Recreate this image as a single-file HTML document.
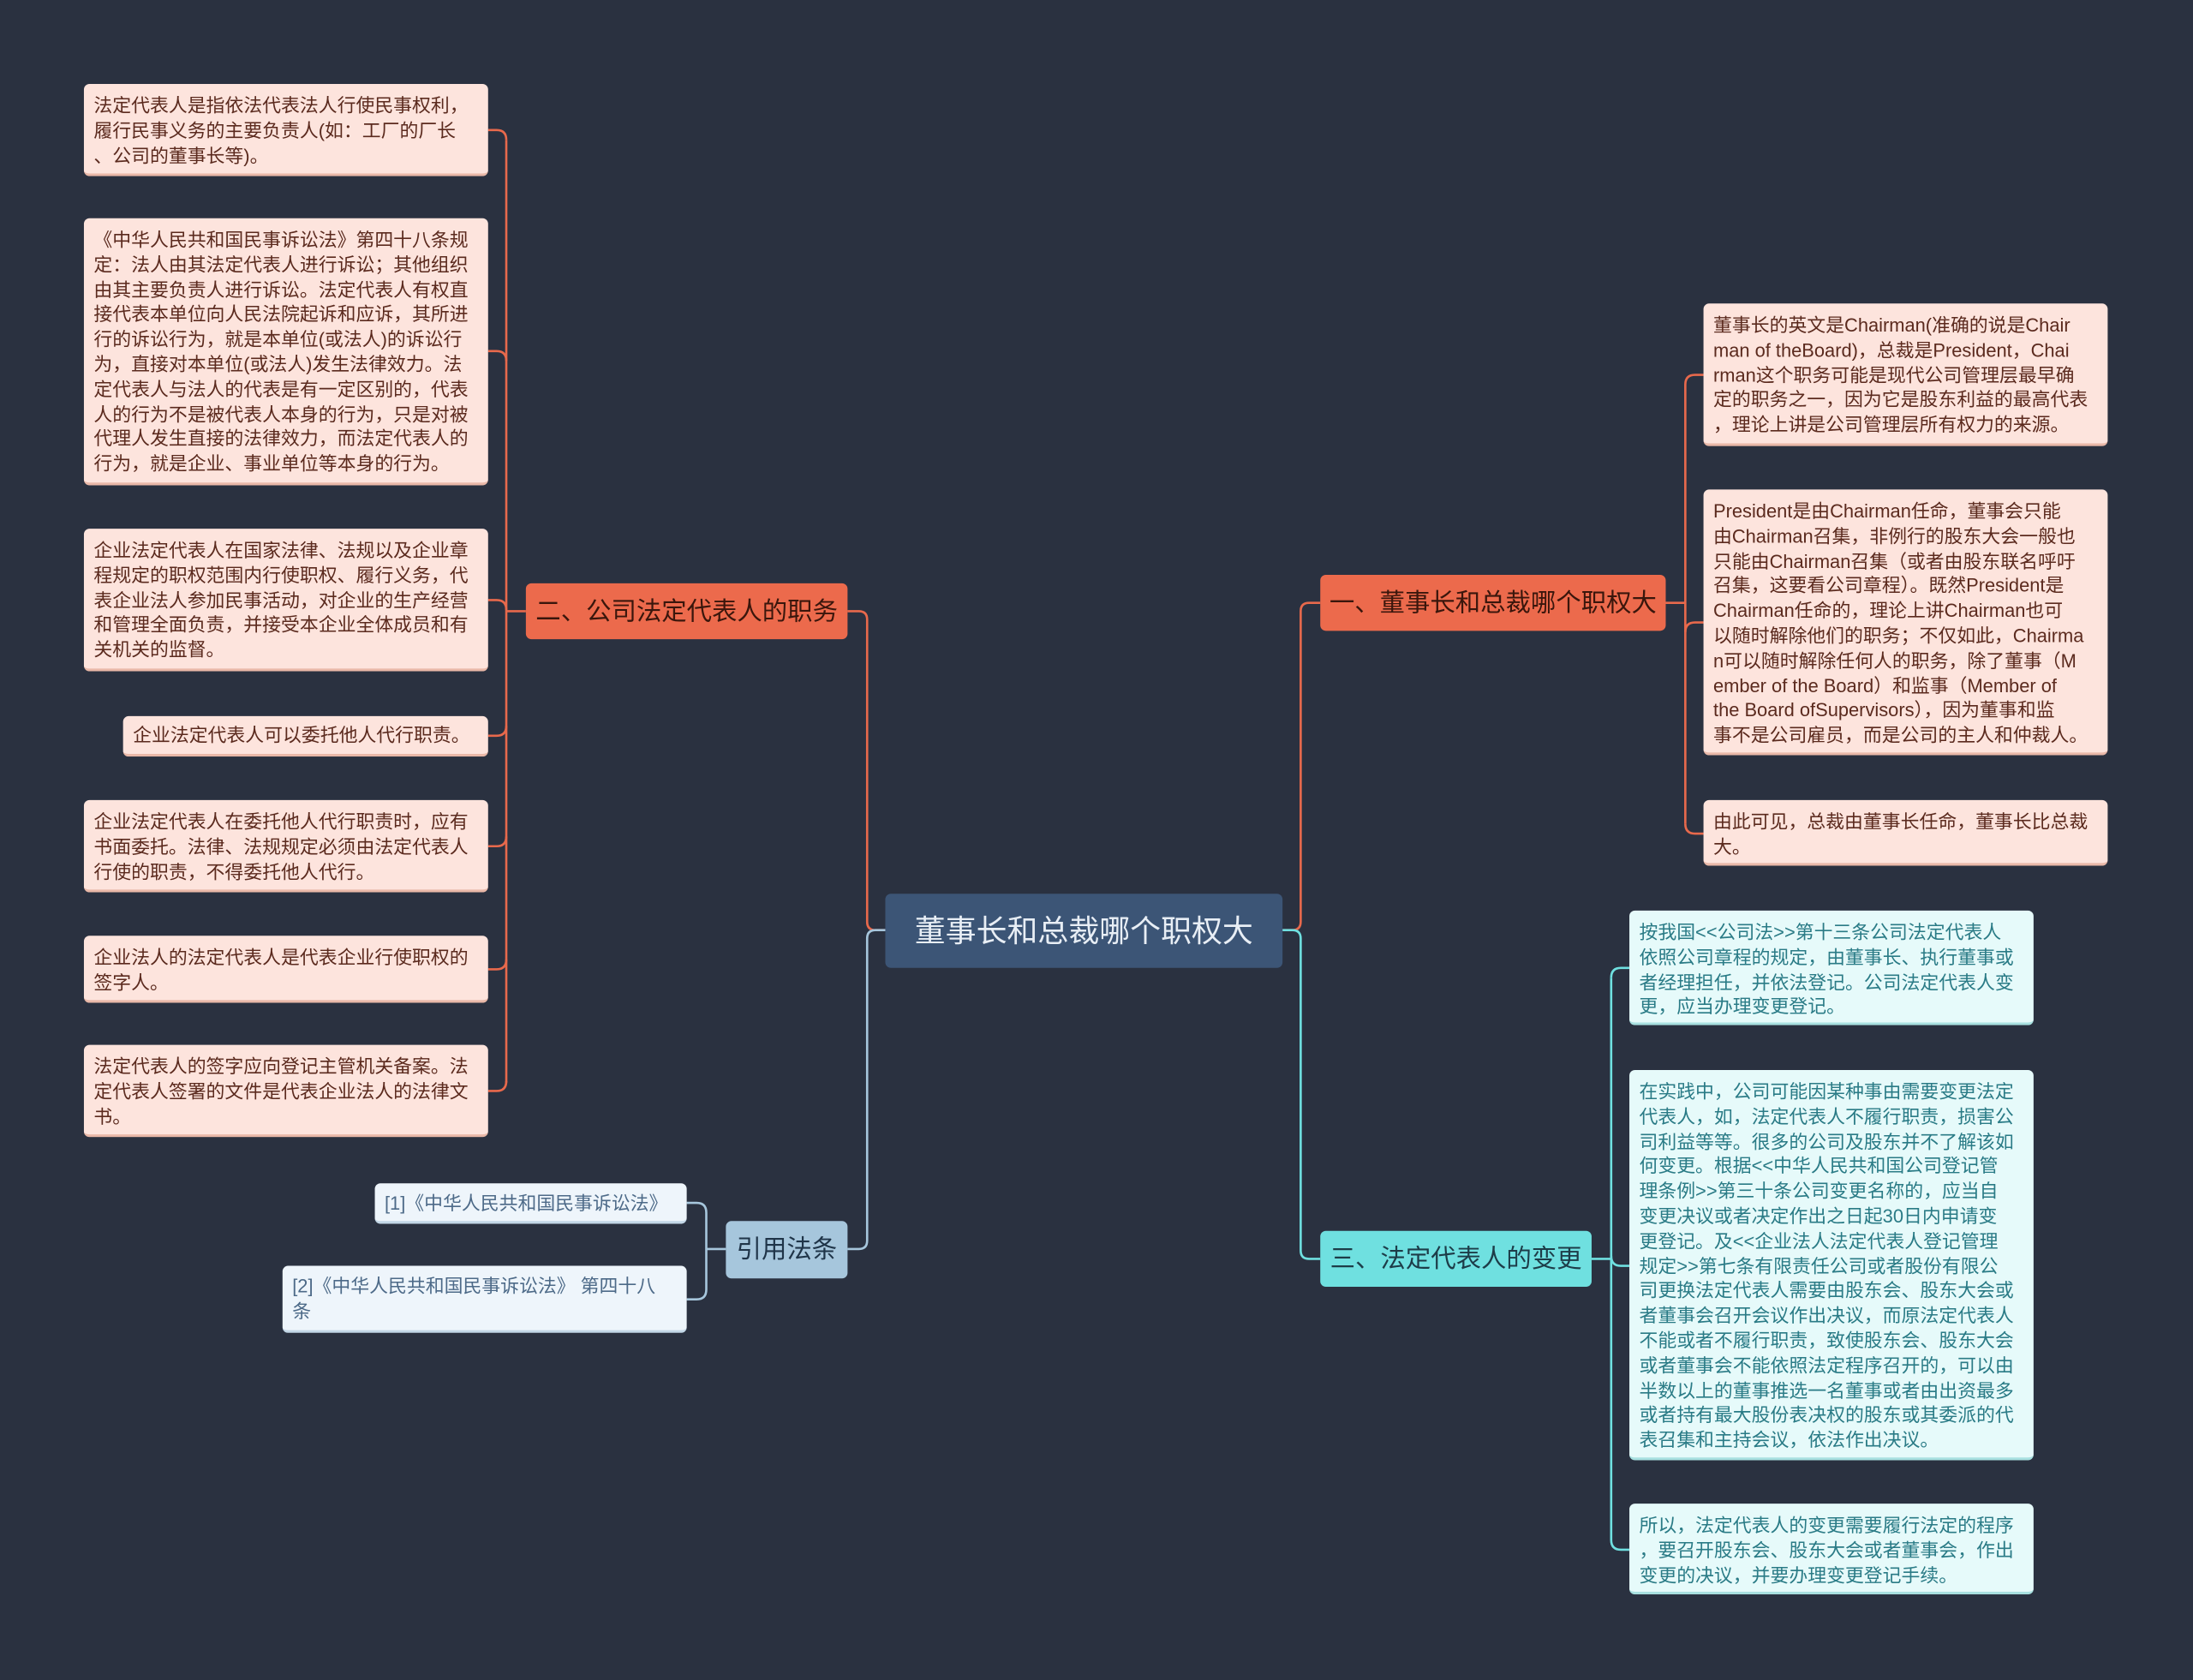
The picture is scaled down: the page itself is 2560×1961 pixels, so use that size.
<!DOCTYPE html>
<html><head><meta charset="utf-8"><style>
html,body{margin:0;padding:0;background:#2a3140;}
#wrap{width:1568px;height:1201px;position:relative;transform:scale(1.63265);transform-origin:0 0;font-family:"Liberation Sans","Noto Sans CJK SC",sans-serif;}
.n{position:absolute;box-sizing:border-box;border-radius:4px;white-space:nowrap;}
.lo{background:#fde4dd;color:#5b2a1e;font-size:13.4px;line-height:17.8px;padding:7px 7px;border-bottom:2px solid #e9b8a8;}
.lc{background:#e6fafa;color:#2a7b86;font-size:13.4px;line-height:17.8px;padding:7px 7px;border-bottom:2px solid #a8e0e0;}
.lb{background:#eef5fb;color:#4d6a88;font-size:13.4px;line-height:17.8px;padding:6px 7px;border-bottom:2px solid #c2d6e6;}
.bo{background:#ec6a4c;color:#3a160c;font-size:18px;text-align:center;}
.bc{background:#6fe0e0;color:#1d3c48;font-size:18px;text-align:center;}
.bb{background:#a6c6dc;color:#1f3448;font-size:18px;text-align:center;}
svg{position:absolute;left:0;top:0;}
</style></head><body><div id="wrap">
<svg width="1568" height="1201" fill="none" stroke-width="1.6">
<g stroke="#e8694c">
<path d="M633 665 H626 Q620 665 620 659 V443 Q620 437 614 437 H606"/>
<path d="M376 437 H362"/>
<path d="M362 100 V774"/>
<path d="M349 93 H355 Q362 93 362 100"/><path d="M349 251 H355 Q362 251 362 258"/><path d="M349 429 H355 Q362 429 362 436"/>
<path d="M349 526 H355 Q362 526 362 519"/><path d="M349 605 H355 Q362 605 362 598"/><path d="M349 693 H355 Q362 693 362 686"/><path d="M349 780 H355 Q362 780 362 773"/>
<path d="M917 665 H924 Q930 665 930 659 V437 Q930 431 936 431 H944"/>
<path d="M1191 431 H1205"/>
<path d="M1205 275 V589"/>
<path d="M1218 268 H1212 Q1205 268 1205 275"/><path d="M1218 445 H1212 Q1205 445 1205 452"/><path d="M1218 596 H1212 Q1205 596 1205 589"/>
</g>
<g stroke="#6fe0e0">
<path d="M917 665 H924 Q930 665 930 671 V894 Q930 900 936 900 H944"/>
<path d="M1138 900 H1152"/>
<path d="M1152 699 V1101"/>
<path d="M1165 692 H1159 Q1152 692 1152 699"/><path d="M1165 905 H1159 Q1152 905 1152 898"/><path d="M1165 1108 H1159 Q1152 1108 1152 1101"/>
</g>
<g stroke="#a6c6dc">
<path d="M633 665 H626 Q620 665 620 671 V887 Q620 893 614 893 H606"/>
<path d="M519 893 H505"/>
<path d="M491 860 H498 Q505 860 505 867 V922 Q505 929 498 929 H491"/>
</g>
</svg>
<div class="n" style="left:633px;top:639px;width:284px;height:53px;background:#3c5576;color:#e8eef5;font-size:22px;line-height:53px;text-align:center;">董事长和总裁哪个职权大</div>
<div class="n bo" style="left:376px;top:417px;width:230px;height:40px;line-height:40px;">二、公司法定代表人的职务</div>
<div class="n bb" style="left:519px;top:873px;width:87px;height:41px;line-height:41px;">引用法条</div>
<div class="n bo" style="left:944px;top:411px;width:247px;height:40px;line-height:40px;">一、董事长和总裁哪个职权大</div>
<div class="n bc" style="left:944px;top:880px;width:194px;height:40px;line-height:40px;">三、法定代表人的变更</div>

<div class="n lo" style="left:60px;top:60px;width:289px;height:66px;">法定代表人是指依法代表法人行使民事权利，<br>履行民事义务的主要负责人(如：工厂的厂长<br>、公司的董事长等)。</div>
<div class="n lo" style="left:60px;top:156px;width:289px;height:191px;">《中华人民共和国民事诉讼法》第四十八条规<br>定：法人由其法定代表人进行诉讼；其他组织<br>由其主要负责人进行诉讼。法定代表人有权直<br>接代表本单位向人民法院起诉和应诉，其所进<br>行的诉讼行为，就是本单位(或法人)的诉讼行<br>为，直接对本单位(或法人)发生法律效力。法<br>定代表人与法人的代表是有一定区别的，代表<br>人的行为不是被代表人本身的行为，只是对被<br>代理人发生直接的法律效力，而法定代表人的<br>行为，就是企业、事业单位等本身的行为。</div>
<div class="n lo" style="left:60px;top:378px;width:289px;height:102px;">企业法定代表人在国家法律、法规以及企业章<br>程规定的职权范围内行使职权、履行义务，代<br>表企业法人参加民事活动，对企业的生产经营<br>和管理全面负责，并接受本企业全体成员和有<br>关机关的监督。</div>
<div class="n lo" style="left:88px;top:512px;width:261px;height:29px;padding-top:5px;">企业法定代表人可以委托他人代行职责。</div>
<div class="n lo" style="left:60px;top:572px;width:289px;height:66px;">企业法定代表人在委托他人代行职责时，应有<br>书面委托。法律、法规规定必须由法定代表人<br>行使的职责，不得委托他人代行。</div>
<div class="n lo" style="left:60px;top:669px;width:289px;height:48px;">企业法人的法定代表人是代表企业行使职权的<br>签字人。</div>
<div class="n lo" style="left:60px;top:747px;width:289px;height:66px;">法定代表人的签字应向登记主管机关备案。法<br>定代表人签署的文件是代表企业法人的法律文<br>书。</div>

<div class="n lb" style="left:268px;top:846px;width:223px;height:29px;">[1]《中华人民共和国民事诉讼法》</div>
<div class="n lb" style="left:202px;top:905px;width:289px;height:48px;">[2]《中华人民共和国民事诉讼法》 第四十八<br>条</div>

<div class="n lo" style="left:1218px;top:217px;width:289px;height:102px;">董事长的英文是Chairman(准确的说是Chair<br>man of theBoard)，总裁是President，Chai<br>rman这个职务可能是现代公司管理层最早确<br>定的职务之一，因为它是股东利益的最高代表<br>，理论上讲是公司管理层所有权力的来源。</div>
<div class="n lo" style="left:1218px;top:350px;width:289px;height:190px;">President是由Chairman任命，董事会只能<br>由Chairman召集，非例行的股东大会一般也<br>只能由Chairman召集（或者由股东联名呼吁<br>召集，这要看公司章程）。既然President是<br>Chairman任命的，理论上讲Chairman也可<br>以随时解除他们的职务；不仅如此，Chairma<br>n可以随时解除任何人的职务，除了董事（M<br>ember of the Board）和监事（Member of<br>the Board ofSupervisors），因为董事和监<br>事不是公司雇员，而是公司的主人和仲裁人。</div>
<div class="n lo" style="left:1218px;top:572px;width:289px;height:47px;">由此可见，总裁由董事长任命，董事长比总裁<br>大。</div>

<div class="n lc" style="left:1165px;top:651px;width:289px;height:82px;">按我国&lt;&lt;公司法&gt;&gt;第十三条公司法定代表人<br>依照公司章程的规定，由董事长、执行董事或<br>者经理担任，并依法登记。公司法定代表人变<br>更，应当办理变更登记。</div>
<div class="n lc" style="left:1165px;top:765px;width:289px;height:279px;">在实践中，公司可能因某种事由需要变更法定<br>代表人，如，法定代表人不履行职责，损害公<br>司利益等等。很多的公司及股东并不了解该如<br>何变更。根据&lt;&lt;中华人民共和国公司登记管<br>理条例&gt;&gt;第三十条公司变更名称的，应当自<br>变更决议或者决定作出之日起30日内申请变<br>更登记。及&lt;&lt;企业法人法定代表人登记管理<br>规定&gt;&gt;第七条有限责任公司或者股份有限公<br>司更换法定代表人需要由股东会、股东大会或<br>者董事会召开会议作出决议，而原法定代表人<br>不能或者不履行职责，致使股东会、股东大会<br>或者董事会不能依照法定程序召开的，可以由<br>半数以上的董事推选一名董事或者由出资最多<br>或者持有最大股份表决权的股东或其委派的代<br>表召集和主持会议，依法作出决议。</div>
<div class="n lc" style="left:1165px;top:1075px;width:289px;height:65px;">所以，法定代表人的变更需要履行法定的程序<br>，要召开股东会、股东大会或者董事会，作出<br>变更的决议，并要办理变更登记手续。</div>
</div></body></html>
